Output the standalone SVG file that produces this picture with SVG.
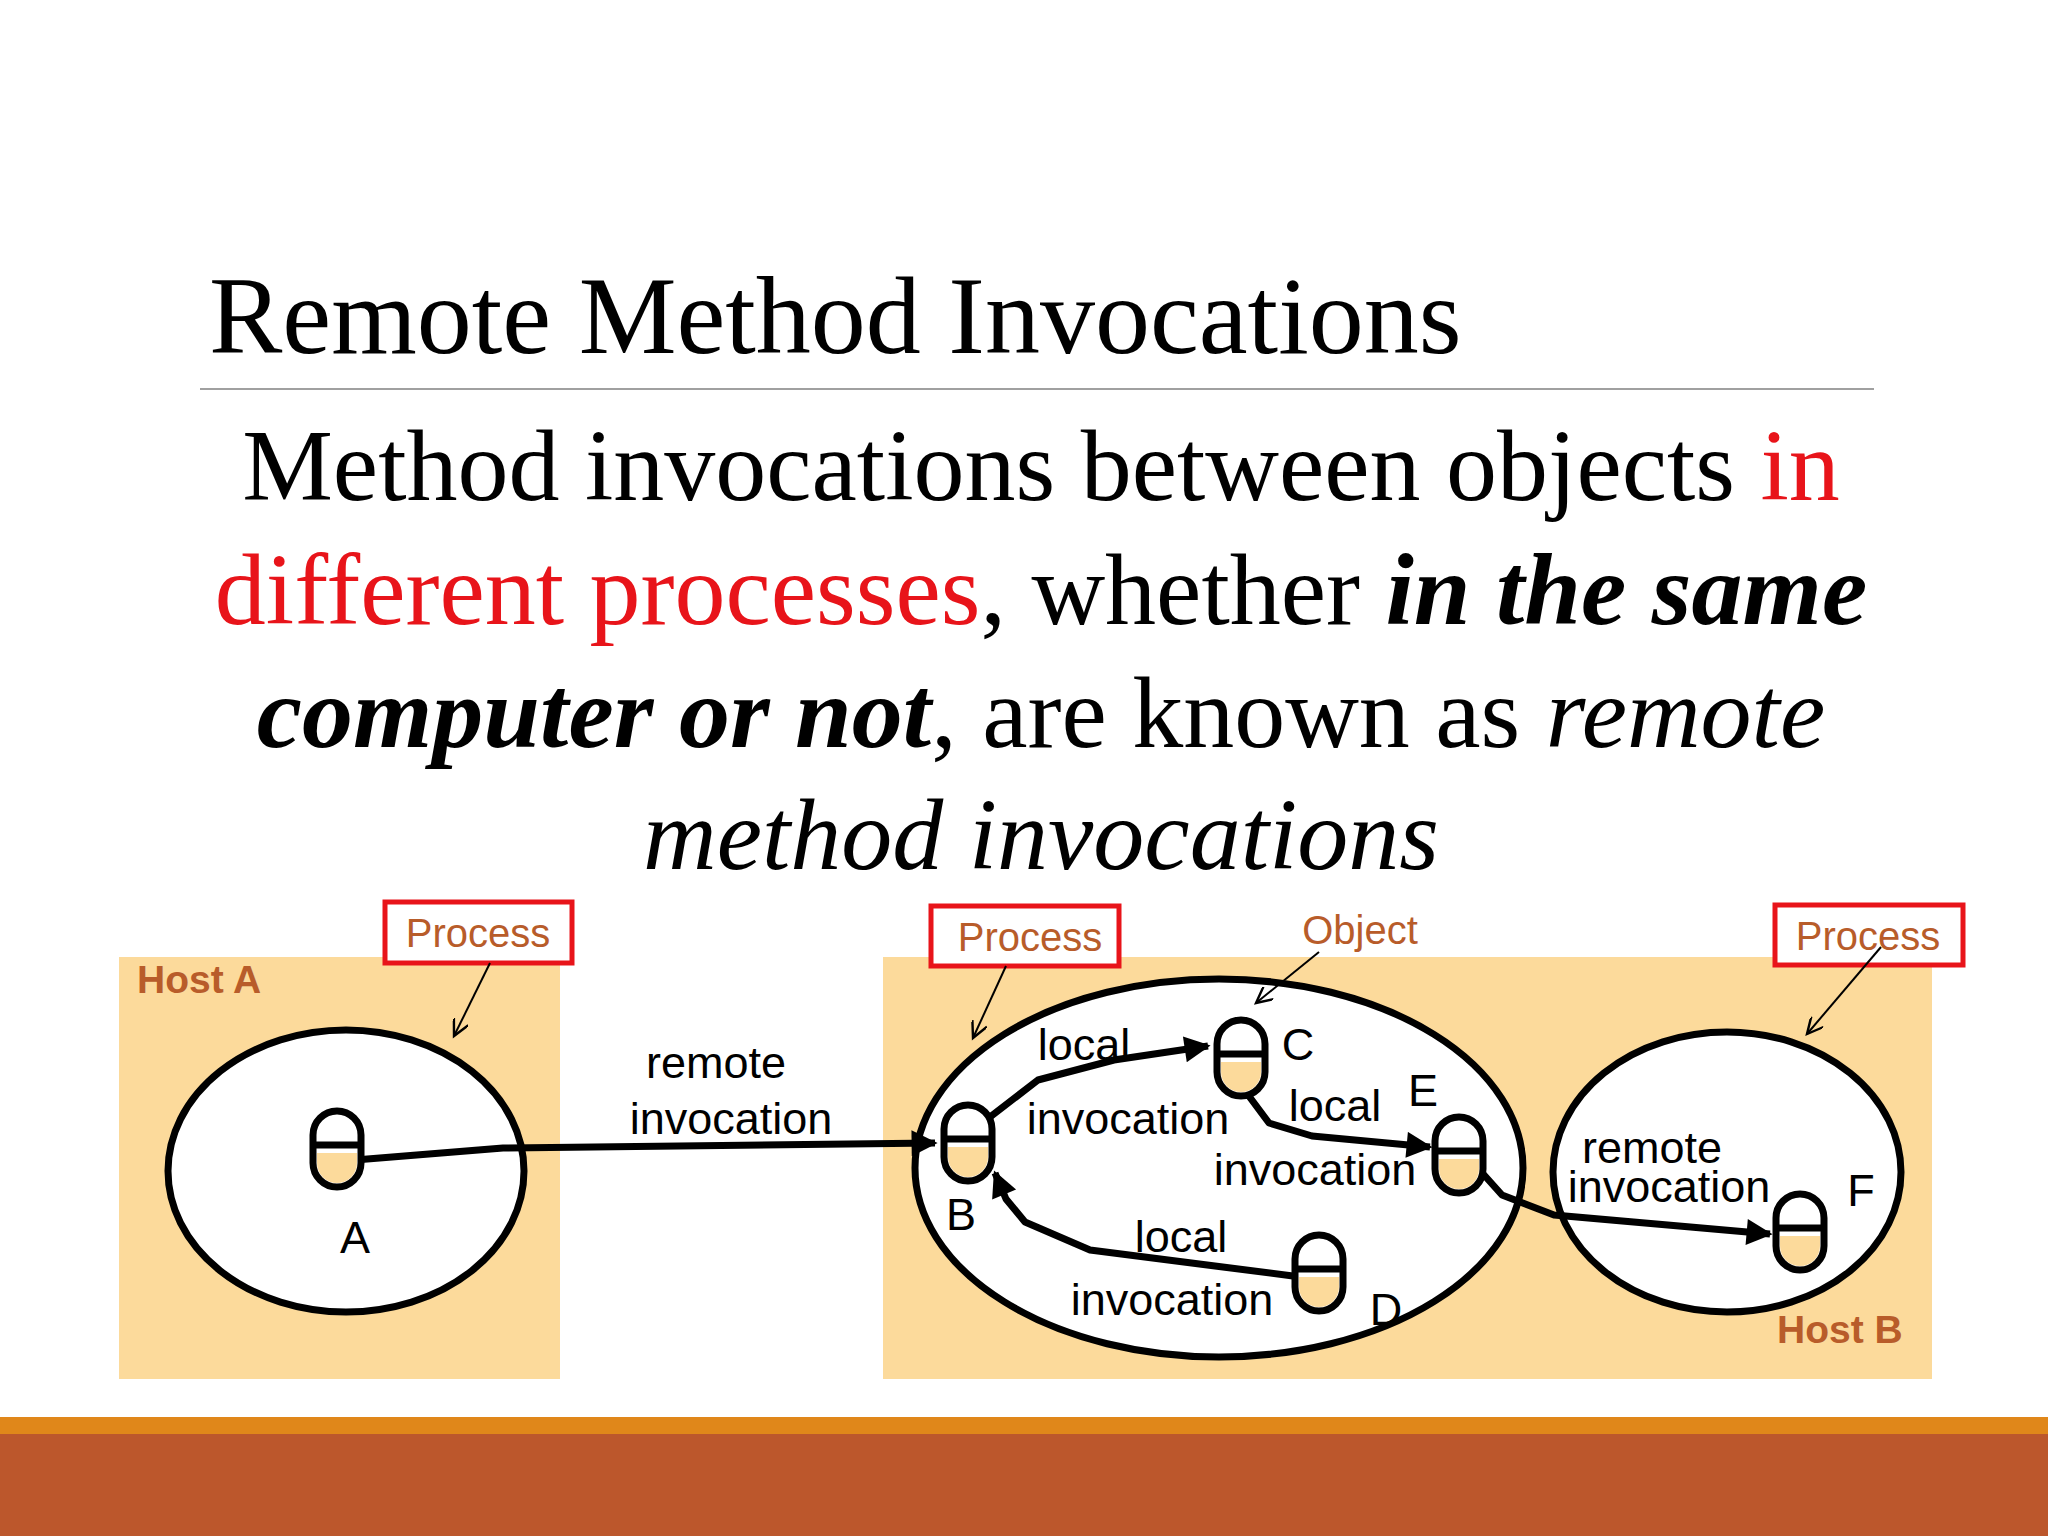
<svg xmlns="http://www.w3.org/2000/svg" xmlns:xlink="http://www.w3.org/1999/xlink" width="2048" height="1536" viewBox="0 0 2048 1536">
<style>
.host{fill:#FCDA9B}
.hl{font-family:"Liberation Sans",Arial,sans-serif;font-weight:bold;font-size:39px;fill:#B85C2A}
.pbox{fill:#fff;stroke:#E8141A;stroke-width:5}
.pt{font-family:"Liberation Sans",Arial,sans-serif;font-size:40px;fill:#B85C2A;text-anchor:middle}
.proc{fill:#fff;stroke:#000;stroke-width:7}
.lbl{font-family:"Liberation Sans",Arial,sans-serif;font-size:45px;fill:#000;text-anchor:middle}
.conn{fill:none;stroke:#000;stroke-width:7;stroke-linejoin:round}
.thin{fill:none;stroke:#000;stroke-width:2}
.serif{font-family:"Liberation Serif","Times New Roman",serif;fill:#000}
</style>
<defs>
<marker id="ah" viewBox="0 0 10 10" refX="9" refY="5" markerWidth="34" markerHeight="26" markerUnits="userSpaceOnUse" orient="auto"><path d="M0,0 L10,5 L0,10 Z" fill="#000"/></marker>
<marker id="th" viewBox="0 0 10 10" refX="10" refY="5" markerWidth="22" markerHeight="16" markerUnits="userSpaceOnUse" orient="auto"><path d="M0,0 L10,5 L0,10" fill="none" stroke="#000" stroke-width="1.5"/></marker>
<g id="obj">
<rect x="-24" y="-38" width="48" height="76" rx="24" fill="#fff"/>
<path d="M-20,4 H20 V14 A20,20 0 0 1 -20,14 Z" fill="#FCDA9B"/>
<rect x="-24" y="-38" width="48" height="76" rx="24" fill="none" stroke="#000" stroke-width="7"/>
<line x1="-24" y1="-4" x2="22" y2="-4" stroke="#000" stroke-width="7"/>
</g>
</defs>
<rect width="2048" height="1536" fill="#fff"/>
<text class="serif" x="209" y="353" font-size="110">Remote Method Invocations</text>
<line x1="200" y1="389" x2="1874" y2="389" stroke="#A0A0A0" stroke-width="2"/>
<g class="serif" font-size="102" text-anchor="middle">
<text x="1041" y="500">Method invocations between objects <tspan fill="#E8141A">in</tspan></text>
<text x="1041" y="624"><tspan fill="#E8141A">different processes</tspan>, whether <tspan font-weight="bold" font-style="italic">in the same</tspan></text>
<text x="1041" y="747"><tspan font-weight="bold" font-style="italic">computer or not</tspan>, are known as <tspan font-style="italic">remote</tspan></text>
<text x="1041" y="869" font-style="italic">method invocations</text>
</g>
<g id="hostA"><rect class="host" x="119" y="957" width="441" height="422"/><text class="hl" x="137" y="993">Host A</text></g>
<g id="hostB"><rect class="host" x="883" y="957" width="1049" height="422"/><text class="hl" x="1777" y="1343">Host B</text></g>
<g id="procA"><ellipse class="proc" cx="346" cy="1171" rx="178" ry="141"/></g>
<g id="procB"><ellipse class="proc" cx="1219" cy="1168" rx="304" ry="189"/></g>
<g id="procF"><ellipse class="proc" cx="1727" cy="1172" rx="174" ry="140"/></g>
<g id="labelProcA"><rect class="pbox" x="385" y="902" width="187" height="61"/><text class="pt" x="478" y="947">Process</text></g>
<g id="labelProcB"><rect class="pbox" x="931" y="906" width="188" height="60"/><text class="pt" x="1030" y="951">Process</text></g>
<g id="labelProcF"><rect class="pbox" x="1775" y="905" width="188" height="60"/><text class="pt" x="1868" y="950">Process</text></g>
<g id="labelObject"><text class="pt" x="1360" y="944">Object</text></g>
<g id="connectors">
<polyline class="conn" points="355,1160 503,1148 935,1143" marker-end="url(#ah)"/>
<polyline class="conn" points="990,1117 1038,1080 1114,1060 1208,1046" marker-end="url(#ah)"/>
<polyline class="conn" points="1228,1068 1269,1123 1312,1136 1430,1147" marker-end="url(#ah)"/>
<polyline class="conn" points="1293,1276 1090,1250 1025,1222 1006,1199 995,1173" marker-end="url(#ah)"/>
<polyline class="conn" points="1476,1166 1502,1195 1554,1215 1770,1234" marker-end="url(#ah)"/>
<line class="thin" x1="490" y1="963" x2="454" y2="1036" marker-end="url(#th)"/>
<line class="thin" x1="1006" y1="966" x2="973" y2="1038" marker-end="url(#th)"/>
<line class="thin" x1="1881" y1="947" x2="1807" y2="1034" marker-end="url(#th)"/>
<line class="thin" x1="1319" y1="952" x2="1256" y2="1003" marker-end="url(#th)"/>
</g>
<g id="objA"><use xlink:href="#obj" x="337" y="1149"/><text class="lbl" x="355" y="1253">A</text></g>
<g id="objB"><use xlink:href="#obj" x="968" y="1143"/><text class="lbl" x="961" y="1230">B</text></g>
<g id="objC"><use xlink:href="#obj" x="1241" y="1058"/><text class="lbl" x="1298" y="1060">C</text></g>
<g id="objE"><use xlink:href="#obj" x="1459" y="1155"/><text class="lbl" x="1423" y="1106">E</text></g>
<g id="objD"><use xlink:href="#obj" x="1319" y="1273"/><text class="lbl" x="1386" y="1325">D</text></g>
<g id="objF"><use xlink:href="#obj" x="1800" y="1232"/><text class="lbl" x="1861" y="1206">F</text></g>
<g id="edgeLabels">
<text class="lbl" x="716" y="1078">remote</text><text class="lbl" x="731" y="1134">invocation</text>
<text class="lbl" x="1084" y="1060">local</text><text class="lbl" x="1128" y="1134">invocation</text>
<text class="lbl" x="1335" y="1121">local</text><text class="lbl" x="1315" y="1185">invocation</text>
<text class="lbl" x="1181" y="1252">local</text><text class="lbl" x="1172" y="1315">invocation</text>
<text class="lbl" x="1652" y="1163">remote</text><text class="lbl" x="1669" y="1202">invocation</text>
</g>
<rect x="0" y="1417" width="2048" height="17" fill="#E0871A"/>
<rect x="0" y="1434" width="2048" height="102" fill="#BC572C"/>
</svg>
